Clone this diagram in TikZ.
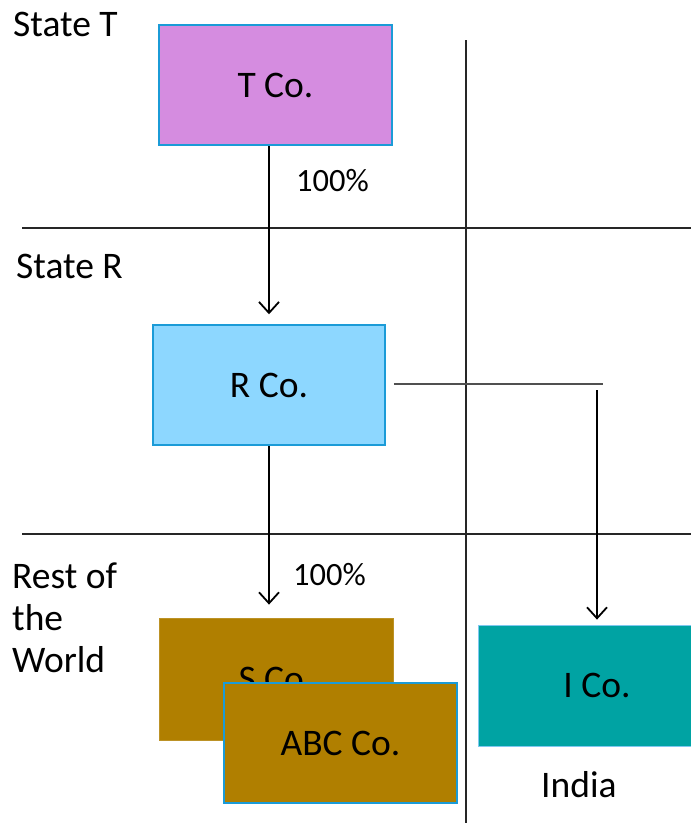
\documentclass[tikz,border=0pt]{standalone}
\usepackage{fontspec}
\setmainfont{Carlito}
\usepackage{tikz}
\usetikzlibrary{arrows.meta, positioning, calc}
\definecolor{OrchidFill}{HTML}{D58CE0}
\definecolor{SkyFill}{HTML}{8DD7FF}
\definecolor{GoldFill}{HTML}{B07F00}
\definecolor{TealFill}{HTML}{00A3A3}
\definecolor{EdgeBlue}{HTML}{1B9BD7}
\definecolor{PaleBlue}{HTML}{7FC8F0}
\definecolor{LineGray}{HTML}{505050}
\tikzset{
    company/.style={rectangle, draw=EdgeBlue, line width=1.5pt, inner sep=0pt,
                     minimum height=120pt, font=\fontsize{37.5}{44}\selectfont},
    statelabel/.style={anchor=base west, inner sep=0pt, font=\fontsize{37.5}{42}\selectfont},
    sharelabel/.style={anchor=base west, inner sep=0pt, font=\fontsize{32.5}{36}\selectfont},
    ownarrow/.style={line width=1.8pt, -{Straight Barb[length=11pt, width=20pt, line width=1.8pt]}},
    border/.style={line width=1.2pt, black!85},
}

\begin{document}
\begin{tikzpicture}[x=1pt, y=-1pt]
    \clip (0,0) rectangle (691,823);

    % jurisdictions
    \draw[border] (22,228) -- (691,228);
    \draw[border] (22,534) -- (691,534);
    \draw[border] (466,40) -- (466,823);

    \node[statelabel] (statet) at (13,36) {State T};
    \node[statelabel] (stater) at (16,278) {State R};
    \node[statelabel, align=left] (world) at (12,672) {Rest of\\the\\World};
    \node[statelabel] (india) at (541,797) {India};

    % companies
    \node[company, fill=OrchidFill, minimum width=233pt] (tco) at (275.5,85) {T Co.};
    \node[company, fill=SkyFill, minimum width=232pt] (rco) at (269,385) {R Co.};
    \node[company, fill=GoldFill, draw=GoldFill!85!white, line width=0.8pt,
          minimum width=234pt, minimum height=122pt] (sco) at (276,679) {S Co.};
    \node[company, fill=GoldFill, minimum width=233pt] (abc) at (340.5,743) {ABC Co.};
    \node[company, fill=TealFill, draw=PaleBlue, line width=0.8pt,
          minimum width=238pt, minimum height=121pt] (ico) at (597,685.5) {I Co.};

    % holdings
    \draw[ownarrow] (tco.south -| rco.north) -- ([yshift=10pt]rco.north);
    \node[sharelabel] (tpct) at (296,191) {100\%};
    \draw[ownarrow] (rco.south) -- ([yshift=13pt]sco.north -| rco.south);
    \node[sharelabel] (spct) at (293,585) {100\%};

    \coordinate (bend) at (603,384);
    \draw[line width=2.4pt, LineGray] ([xshift=8pt,yshift=1pt]rco.east) -- (bend);
    \draw[ownarrow] ([yshift=-6pt]bend -| ico.north) -- ([yshift=5pt]ico.north);
\end{tikzpicture}
\end{document}
